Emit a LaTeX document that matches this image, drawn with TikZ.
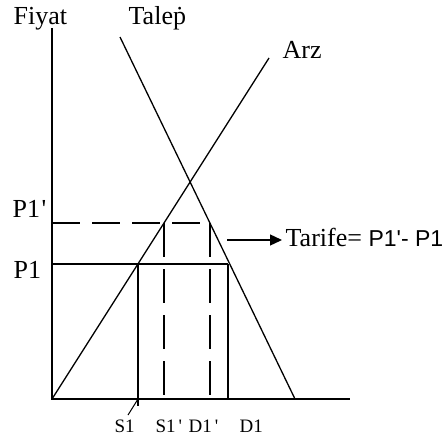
\documentclass[tikz,border=0pt]{standalone}
\usepackage{fontspec}
\setmainfont{Liberation Serif}
\newfontfamily\sansf{Liberation Sans}
\usetikzlibrary{arrows.meta}
\begin{document}
\begin{tikzpicture}[x=1pt,y=-1pt,line width=1.3pt,
  lbl/.style={inner sep=0pt,anchor=base west,font=\fontsize{26}{31}\selectfont},
  small/.style={inner sep=0pt,anchor=base west,font=\fontsize{19}{23}\selectfont},
  vdash/.style={dash pattern=on 34pt off 12pt},
  hdash/.style={dash pattern=on 28pt off 12pt},
  arr/.style={-{Triangle[length=12pt,width=11pt]}}]
\useasboundingbox (0,0) rectangle (446,436);
% coordinates
\coordinate (O) at (52,399);
\coordinate (Ytop) at (52,28);
\coordinate (Xend) at (350,399);
\coordinate (Stop) at (269,58);
\coordinate (Dtop) at (120,37);
\coordinate (Dbot) at (295,399);
\coordinate (P1y) at (52,264);
\coordinate (P1py) at (52,223);
\coordinate (S1a) at (138,264);
\coordinate (S1b) at (138,406);
\coordinate (S1c) at (138,399);
\coordinate (S1t) at (128,415);
\coordinate (D1a) at (228,264);
\coordinate (D1b) at (228,399);
\coordinate (S1pa) at (164,223);
\coordinate (S1pb) at (164,399);
\coordinate (D1pa) at (210,223);
\coordinate (D1pb) at (210,399);
\coordinate (A0) at (227,240);
% labels
\node[lbl] (fiyat) at (13,25) {Fiyat};
\node[lbl] (talep) at (128,25) {Tale\.{p}};
\node[lbl] (arz) at (282,58) {Arz};
\node[lbl] (p1p) at (12,217) {P1\hspace{1.5pt}\textquotesingle};
\node[lbl] (p1) at (13,278) {P1};
\node[lbl] (tarife) at (285,246) {Tarife= {\sansf\fontsize{23}{27}\selectfont P1\textquotesingle- P1}};
\node[small] (s1) at (114,432) {S1};
\node[small] (s1p) at (155,432) {S1\hspace{3pt}\textquotesingle};
\node[small] (d1p) at (188,432) {D1\hspace{3pt}\textquotesingle};
\node[small] (d1) at (239,432) {D1};
% axes and curves
\draw (Ytop) -- (O) -- (Xend);
\draw (O) -- (Stop);
\draw (Dtop) -- (Dbot);
% price lines
\draw (P1y) -- (D1a);
\draw (S1a) -- (S1b);
\draw (D1a) -- (D1b);
\draw[hdash] (P1py) -- (D1pa);
\draw[vdash] (S1pa) -- (S1pb);
\draw[vdash] (D1pa) -- (D1pb);
\draw[line width=1pt] (S1t) -- (S1c);
% tariff arrow
\draw[arr,shorten >=3pt] (A0) -- (A0 -| tarife.west);
\end{tikzpicture}
\end{document}
